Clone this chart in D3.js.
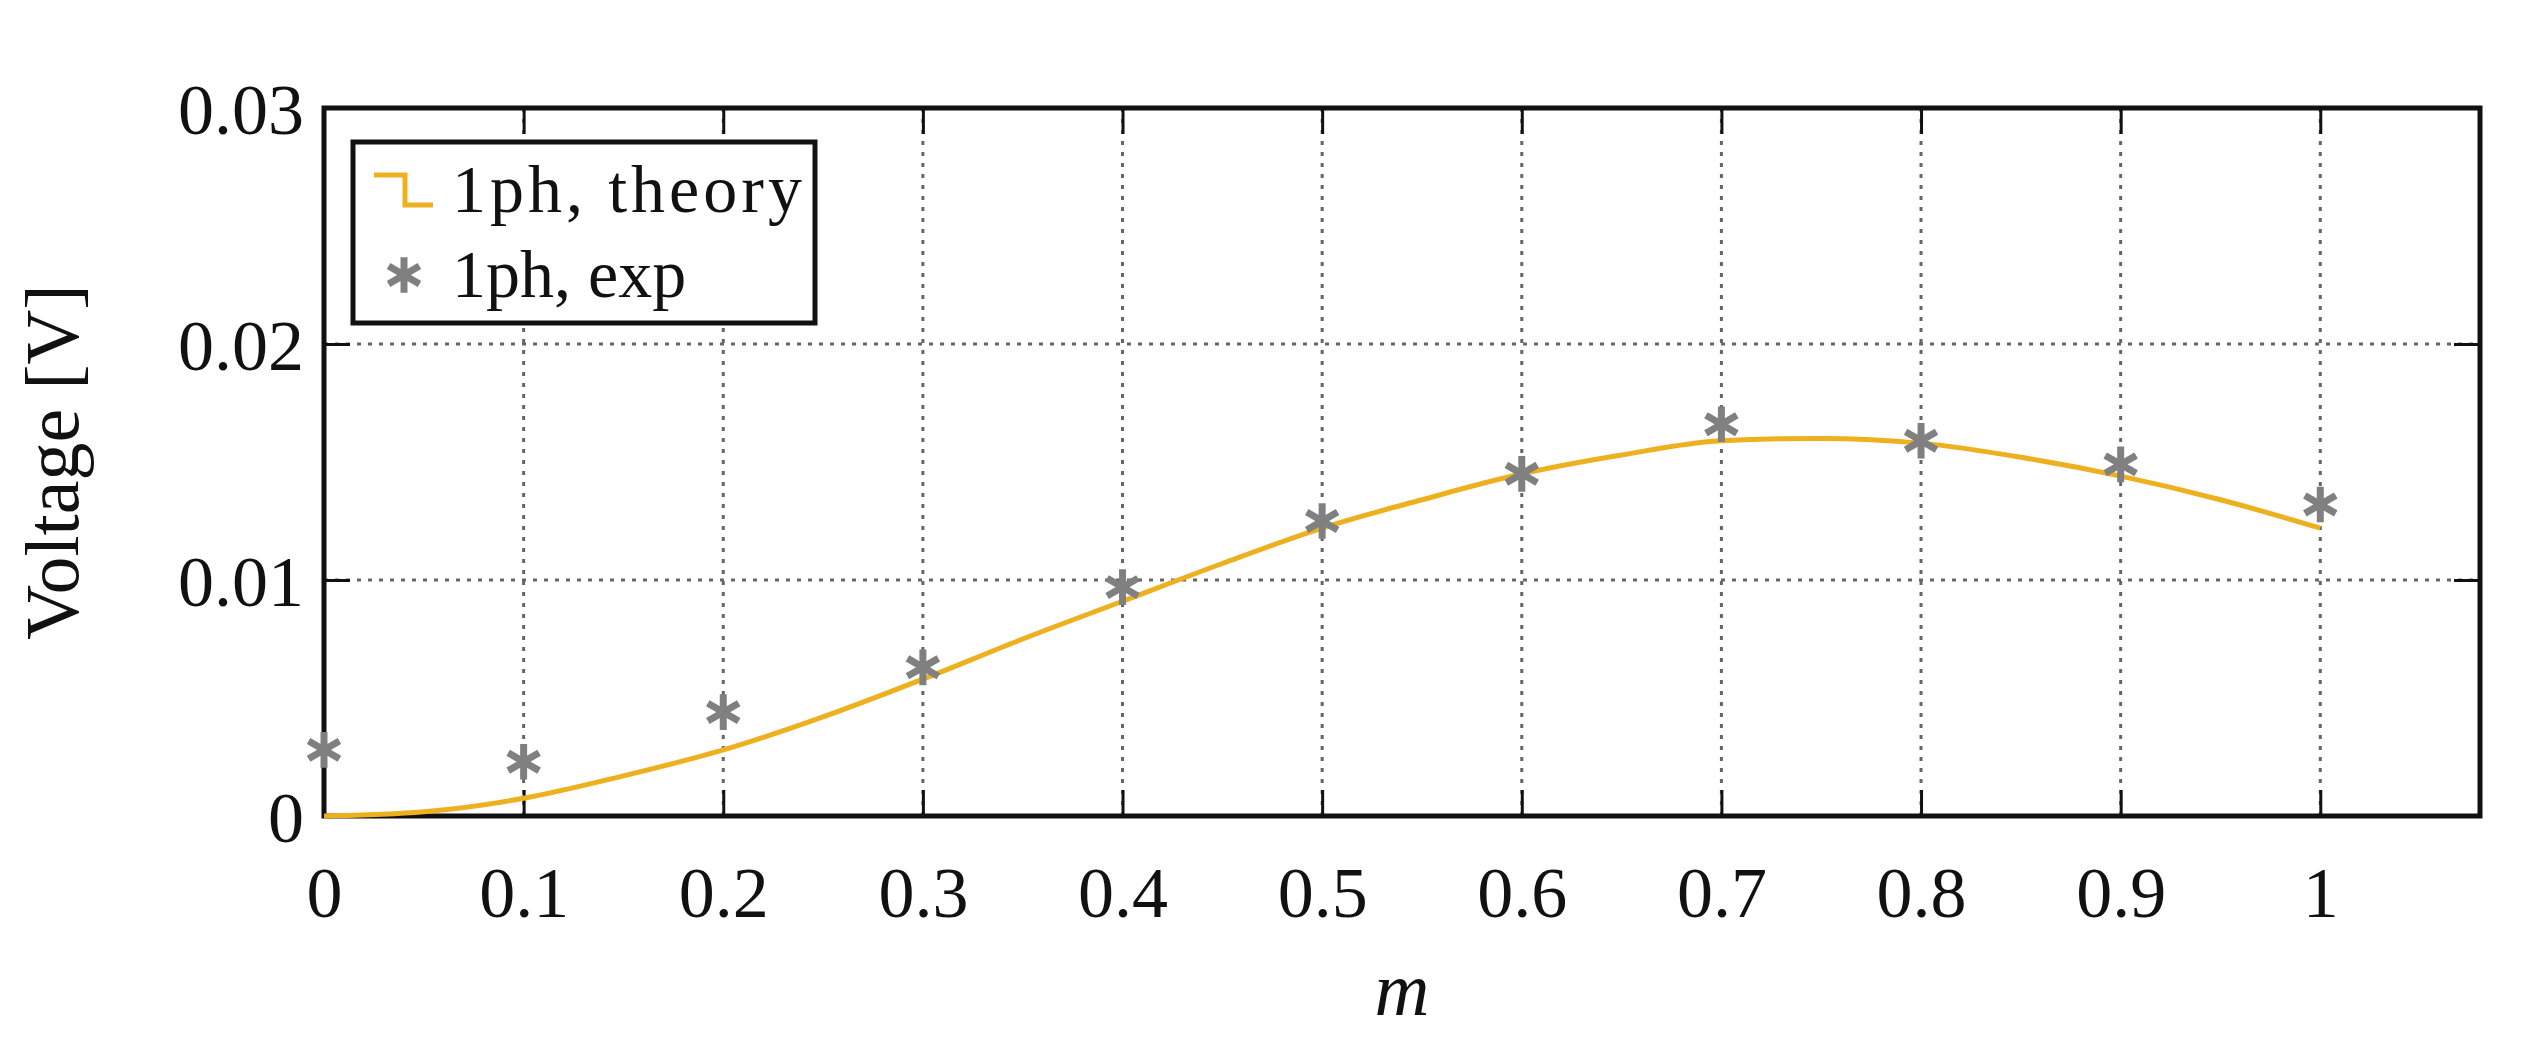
<!DOCTYPE html><html><head><meta charset="utf-8"><script src="https://cdn.jsdelivr.net/npm/d3@7"></script>
<style>body{margin:0;background:#fff}text{font-family:"Liberation Serif","DejaVu Serif",serif;fill:#111}</style></head><body>
<svg id="c" width="2528" height="1052"></svg>
<script>
const theoryM=[0,0.05,0.1,0.15,0.2,0.25,0.3,0.35,0.4,0.45,0.5,0.55,0.6,0.65,0.7,0.75,0.8,0.85,0.9,0.95,1];
const theoryV=[0,0.00018,0.00075,0.0017,0.0028,0.0042,0.0058,0.0075,0.0091,0.0107,0.0122,0.0134,0.0145,0.0153,0.0159,0.0160,0.0158,0.0152,0.0144,0.0134,0.0122];
const expM=[0,0.1,0.2,0.3,0.4,0.5,0.6,0.7,0.8,0.9,1];
const expV=[0.0028,0.0023,0.0044,0.0063,0.0097,0.0125,0.0145,0.0166,0.0159,0.0149,0.0132];
const xTicks=[0,0.1,0.2,0.3,0.4,0.5,0.6,0.7,0.8,0.9,1];
const yTicks=[0,0.01,0.02,0.03];
const L=324,R=2480,T=108,B=816;
const svg=d3.select("#c");
const x=d3.scaleLinear().domain([0,1.08]).range([L,R]);
const y=d3.scaleLinear().domain([0,0.03]).range([B,T]);
const g=svg.append("g");
g.selectAll(".gx").data(xTicks.slice(1)).join("line").attr("x1",d=>x(d)).attr("x2",d=>x(d)).attr("y1",T).attr("y2",B).attr("stroke","#666").attr("stroke-width",3).attr("stroke-dasharray","4,7");
g.selectAll(".gy").data(yTicks.slice(1,3)).join("line").attr("y1",d=>y(d)).attr("y2",d=>y(d)).attr("x1",L).attr("x2",R).attr("stroke","#666").attr("stroke-width",3).attr("stroke-dasharray","4,7");
const ax=svg.append("g").attr("transform",`translate(0,${B})`).call(d3.axisBottom(x).tickValues(xTicks).tickFormat(d=>d===0?"0":d===1?"1":d3.format(".1f")(d)).tickSizeInner(-26).tickSizeOuter(0).tickPadding(50));
const ay=svg.append("g").attr("transform",`translate(${L},0)`).call(d3.axisLeft(y).tickValues(yTicks).tickFormat(d=>d===0?"0":d3.format(".2f")(d)).tickSizeInner(-26).tickSizeOuter(0).tickPadding(20));
const axT=svg.append("g").attr("transform",`translate(0,${T})`).call(d3.axisTop(x).tickValues(xTicks).tickFormat("").tickSizeInner(-26).tickSizeOuter(0));
const ayR=svg.append("g").attr("transform",`translate(${R},0)`).call(d3.axisRight(y).tickValues(yTicks).tickFormat("").tickSizeInner(-26).tickSizeOuter(0));
[ax,ay,axT,ayR].forEach(a=>{a.select(".domain").remove();a.selectAll("line").attr("stroke","#111").attr("stroke-width",3);a.selectAll("text").attr("font-size",72).attr("fill","#111").attr("font-family","Liberation Serif, serif");});
ay.selectAll("text").attr("dy","0.35em");
svg.append("rect").attr("x",L).attr("y",T).attr("width",R-L).attr("height",B-T).attr("fill","none").attr("stroke","#111").attr("stroke-width",5);
svg.append("path").datum(theoryM.map((m,i)=>[m,theoryV[i]])).attr("d",d3.line().x(d=>x(d[0])).y(d=>y(d[1])).curve(d3.curveMonotoneX)).attr("fill","none").attr("stroke","#EDB120").attr("stroke-width",5);
const star=d3.symbol().type(d3.symbolAsterisk).size(900);
svg.selectAll(".s").data(expM.map((m,i)=>[m,expV[i]])).join("path").attr("d",star).attr("transform",d=>`translate(${x(d[0])},${y(d[1])})`).attr("stroke","#808080").attr("stroke-width",7).attr("fill","none");
svg.append("rect").attr("x",353).attr("y",142).attr("width",462).attr("height",181).attr("fill","#fff").attr("stroke","#111").attr("stroke-width",5);
svg.append("path").attr("d","M374,175 H405 V205 H433").attr("fill","none").attr("stroke","#EDB120").attr("stroke-width",5);
svg.append("path").attr("d",star).attr("transform","translate(404,275)").attr("stroke","#808080").attr("stroke-width",7).attr("fill","none");
svg.append("text").attr("x",452).attr("y",212).attr("font-size",68).attr("textLength",350).text("1ph, theory");
svg.append("text").attr("x",452).attr("y",297).attr("font-size",68).text("1ph, exp");
svg.append("text").attr("x",(L+R)/2).attr("y",1015).attr("text-anchor","middle").attr("font-size",76).attr("font-style","italic").text("m");
svg.append("text").attr("transform",`translate(78,${(T+B)/2}) rotate(-90)`).attr("text-anchor","middle").attr("font-size",76).text("Voltage [V]");
</script></body></html>
